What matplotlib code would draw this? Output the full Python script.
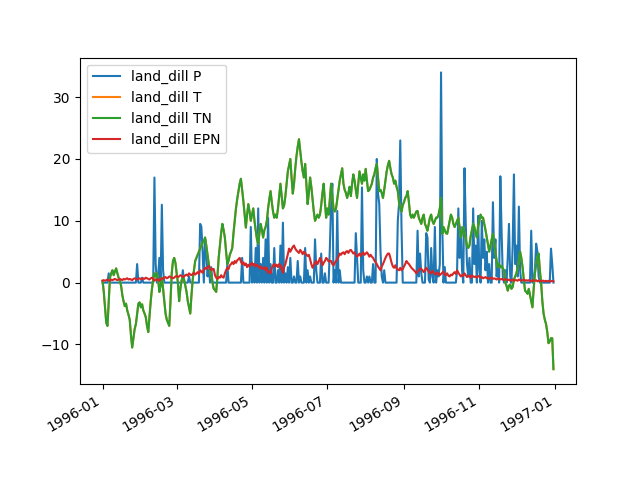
import matplotlib
matplotlib.use("Agg")
import matplotlib.pyplot as plt
import pandas as pd

# daily values for 1996, one line per month
land_dill_p = [
    0, 0, 0, 0, 0, 1.5, 0, 0, 0, 0, 0, 0, 0, 0, 0, 0, 0, 0, 0, 0, 0, 0, 0, 0, 0, 0, 0, 0, 3, 0, 0,
    0, 0.8, 0, 0, 0, 0, 0, 0, 0, 0, 0, 17, 3, 0, 1, 4, 0, 12.6, 2, 0, 0, 0, 0, 0, 0, 0, 0, 0, 0,
    0, 0, 0, 0, 0, 2, 0, 0, 0, 0, 1, 0, 0, 0, 0, 0, 0, 0, 0, 9.5, 9, 5, 0, 7, 5, 1, 3, 0, 2.5, 0, 0,
    0, 0, 0, 0, 0, 0, 0, 0, 0, 0, 3, 0, 0, 0, 0, 0, 0, 0, 0, 0, 0, 0, 4, 0, 0, 0, 0, 0, 0, 9,
    0, 3, 0, 5.6, 0, 12, 0, 3, 0, 4, 0, 7, 0, 10.5, 0, 3, 0, 0, 5.6, 0, 0, 2, 0, 6, 0, 9.7, 0, 1.5, 0, 2.5, 0,
    4, 0, 0, 1, 0, 0, 3.5, 0, 1, 0, 0, 0, 5.6, 0, 2, 0, 1, 0, 0, 0, 7, 2, 0, 0, 0, 4.7, 0, 0, 1.5, 0,
    0, 0, 5.6, 12.7, 16, 0, 2, 0, 11.6, 0, 2, 0, 0, 0, 0, 0, 0, 0, 0, 0, 0, 0, 0, 8, 4, 0, 0, 0, 15.4, 2, 0,
    0, 1, 0, 1, 0, 0, 3, 0, 0, 20, 14.4, 12.7, 5, 1, 0, 2, 0, 0, 0, 0, 0, 0, 0, 0, 0, 0, 10, 12.7, 23, 9, 0,
    0, 0, 0, 0, 0, 0, 0, 0, 0, 0, 0, 8.4, 1, 4.7, 1.5, 0, 0, 0, 8, 7.3, 0.5, 0, 5.6, 1, 0, 9, 0, 2, 1, 3,
    34, 9, 0, 2.5, 0, 0, 0, 0, 0, 0, 0, 0, 0, 2, 12, 4, 9, 2, 0, 18.5, 9.5, 3, 1, 4, 0, 0, 12, 3, 6, 0, 10.8,
    2, 0, 10, 4, 7, 2, 5, 0, 3, 0, 0, 13, 4, 7, 1, 3, 0, 17.2, 8.4, 1, 0, 2, 0, 4, 9.5, 1, 0, 6, 17.5, 3,
    6, 1, 12.3, 2, 0, 0, 0, 0, 0, 0, 0, 0, 8.4, 0, 0, 2, 6.3, 5, 1, 0, 0, 0, 0, 0, 0, 0, 0, 0, 5.5, 3, 0,
]

land_dill_tn = [
    0.3, -1.5, -4, -6.5, -7, -3, 0.8, 1.5, 2, 1.2, 1.8, 2.3, 1.5, 0.8, 0.3, -0.5, -2, -3, -3.8, -3.4,
    -4.5, -5.2, -6, -8.5, -10.5, -9, -7.5, -6.7, -5, -3.4, -3.2,
    -4, -3.5, -4.5, -5, -5.6, -7, -8, -5.5, -3, -1, 0.5, 1.5, 1, 1.5, 0.5, -1.5, -0.5, 0.8, -1, -3,
    -5, -6, -6.5, -7, -3, 1.5, 3.5, 4, 3.2,
    1.5, 0, -3, -1, 0.3, 1, 0.5, -0.5, -1.5, -3, -4, -5, -2, 0.5, 2, 3.5, 4, 4.5, 5, 5.5,
    6, 6.5, 6.7, 7.3, 6, 4.5, 3, 2, 1, 0, -1,
    -1.2, -1.5, 1, 4, 6, 8, 9.5, 8.5, 7.3, 5, 3, 3.5, 4.5, 5, 5.6, 8, 10, 12, 13.5, 14.8,
    16, 16.8, 15, 13.2, 11, 8.9, 11, 12.7, 11.5, 10,
    11, 12, 10, 8.4, 7, 6.3, 8, 9.5, 8.5, 7.3, 8.5, 9, 10, 12, 13.5, 14.8, 13, 11.5, 10.5, 11,
    10.5, 12, 14, 16, 14, 12, 12.5, 14, 16, 18, 19,
    20, 17, 14.4, 16, 18.5, 20.5, 22, 23.2, 21.3, 19.5, 18, 17, 19.2, 16, 12.7, 14.5, 17, 15.5, 13.5, 11.5,
    10, 10.5, 11, 10.5, 11, 12.5, 14.5, 16, 13, 10.5,
    12, 11, 13.5, 16, 14, 12, 11.5, 12, 13.5, 15, 16.5, 17.5, 18.5, 16, 15, 14.5, 13.7, 14.5, 15.5, 14,
    16, 17.5, 16.5, 15, 13.7, 16, 18, 17, 16, 17.5, 16.5,
    18.4, 16.5, 14.8, 15, 15.5, 16, 17, 17.5, 18.5, 19.2, 17, 14.8, 15, 14.5, 13.7, 15, 16.5, 18, 19, 19.7,
    18.5, 17.5, 17, 16, 16.5, 15.5, 14.8, 13, 12, 11.5, 12.5,
    13, 13.7, 14, 14.8, 13, 11, 10.5, 11, 10.5, 11, 11.5, 11.6, 10.5, 10, 9.5, 10.5, 11, 9.5, 9, 8.4,
    9.5, 10.5, 11, 10, 9.5, 10, 10.5, 10.5, 11, 12,
    13.7, 7.9, 9, 8.5, 8, 7.9, 9, 10, 11, 10.5, 9.5, 9, 9.5, 10, 10.5, 9, 7.3, 8, 9, 8,
    7, 6, 5.6, 6, 7.5, 8.5, 9.5, 9, 8, 7.3, 9,
    10, 11, 10.5, 10.5, 9.5, 8.5, 7.3, 6, 5, 6, 7, 7.9, 6.5, 5, 3.5, 2.5, 3, 2.5, 2.7, 2.3,
    2, 0, -0.5, -1.3, -0.5, -0.3, -1, -0.7, 0.5, 1,
    1.5, 2.4, 3.5, 5, 4, 2.5, 0.5, -1.3, -1.5, -1.8, -1, -2, -3, -4, -1, 1.5, 3, 4, 4.7, 2,
    0, -3, -5, -6, -6.7, -8, -9.8, -9.5, -9, -9, -14,
]

# T lies exactly under TN in the chart
land_dill_t = list(land_dill_tn)

land_dill_epn = [
    0.3, 0.4, 0.3, 0.4, 0.5, 0.4, 0.3, 0.5, 0.4, 0.5, 0.6, 0.5, 0.4, 0.5, 0.6, 0.5, 0.4, 0.6, 0.5, 0.6,
    0.7, 0.5, 0.6, 0.5, 0.4, 0.6, 0.7, 0.6, 0.5, 0.6, 0.7,
    0.6, 0.5, 0.7, 0.6, 0.8, 0.7, 0.6, 0.5, 0.7, 0.8, 0.6, 0.3, 0.5, 0.4, 0.6, 0.3, 0.5, 0.7, 0.6, 0.8,
    0.9, 0.7, 0.8, 1.0, 0.9, 0.8, 0.7, 0.8, 1.0,
    1.1, 0.9, 1.0, 1.2, 1.1, 0.9, 1.0, 1.2, 1.3, 1.1, 1.5, 1.3, 1.2, 1.4, 1.6, 1.3, 1.5, 1.7, 1.4, 2.0,
    1.8, 1.6, 2.1, 2.4, 2.2, 2.5, 2.7, 2.3, 2.0, 2.2, 2.2,
    1.2, 0.8, 0.6, 0.9, 0.8, 1.2, 0.9, 0.8, 1.5, 2.0, 2.4, 2.2, 2.8, 3.0, 3.3, 3.0, 3.5, 3.2, 3.6, 3.8,
    4.0, 3.4, 3.0, 3.3, 2.8, 3.1, 2.5, 2.9, 2.6, 3.0,
    3.2, 2.8, 3.0, 2.6, 2.9, 2.7, 2.4, 2.6, 2.2, 2.3, 2.5, 2.0, 2.4, 1.6, 1.8, 1.5, 2.4, 2.8, 3.0, 2.6,
    2.9, 2.5, 3.0, 2.8, 2.2, 1.6, 2.5, 3.0, 3.8, 4.6, 5.5,
    5.0, 5.4, 5.8, 6.0, 5.5, 5.2, 5.0, 4.8, 5.3, 5.0, 4.6, 5.0, 4.8, 4.5, 4.3, 4.5, 3.8, 3.0, 2.4, 2.8,
    3.2, 3.5, 3.0, 3.4, 4.0, 3.6, 2.8, 3.2, 3.5, 4.0,
    3.8, 3.4, 3.5, 3.5, 3.0, 2.8, 3.2, 3.5, 3.8, 4.2, 4.7, 4.5, 4.8, 4.9, 4.6, 5.0, 5.1, 4.8, 5.2, 5.3,
    5.0, 4.7, 4.9, 4.5, 4.2, 4.4, 4.7, 4.3, 4.6, 4.9, 4.5,
    4.7, 4.9, 4.6, 4.2, 4.5, 4.2, 4.0, 3.6, 3.3, 3.0, 2.6, 2.3, 2.0, 2.6, 3.0, 3.5, 4.0, 4.4, 4.7, 4.7,
    4.0, 3.2, 2.6, 2.4, 2.8, 2.3, 2.1, 2.0, 2.4, 2.0, 2.2,
    2.6, 3.0, 3.5, 3.2, 3.0, 2.7, 2.4, 2.2, 2.0, 1.8, 1.5, 1.8, 2.0, 2.3, 2.2, 2.0, 1.7, 2.0, 2.4, 2.1,
    1.8, 1.6, 1.5, 1.9, 1.7, 1.4, 1.3, 1.6, 1.5, 1.2,
    1.4, 1.6, 1.8, 1.3, 1.2, 1.5, 1.1, 1.0, 1.3, 1.2, 1.5, 1.7, 1.4, 2.0, 1.6, 1.3, 1.0, 1.2, 1.1, 1.5,
    1.2, 0.9, 1.0, 1.1, 0.8, 1.2, 1.0, 0.9, 1.0, 0.8, 1.0,
    1.1, 0.8, 0.9, 0.7, 0.8, 0.9, 0.7, 0.8, 0.6, 0.7, 0.8, 0.6, 0.7, 0.6, 0.5, 0.7, 0.6, 0.5, 0.6, 0.5,
    0.4, 0.6, 0.5, 0.4, 0.5, 0.3, 0.4, 0.5, 0.3, 0.4,
    0.4, 0.3, 0.5, 0.4, 0.3, 0.4, 0.5, 0.3, 0.4, 0.3, 0.4, 0.3, 0.2, 0.4, 0.3, 0.3, 0.4, 0.2, 0.3, 0.3,
    0.2, 0.3, 0.3, 0.2, 0.3, 0.2, 0.3, 0.2, 0.2, 0.3, 0.2,
]

dates = pd.date_range("1996-01-01", "1996-12-31", freq="D").to_pydatetime()
assert len(dates) == len(land_dill_p) == len(land_dill_tn) == len(land_dill_epn)

fig, ax = plt.subplots(figsize=(6.4, 4.8), dpi=100)
ax.plot(dates, land_dill_p, label="land_dill P")
ax.plot(dates, land_dill_t, label="land_dill T")
ax.plot(dates, land_dill_tn, label="land_dill TN")
ax.plot(dates, land_dill_epn, label="land_dill EPN")
ax.legend(loc="upper left")
fig.autofmt_xdate()

fig.savefig("out.png")
